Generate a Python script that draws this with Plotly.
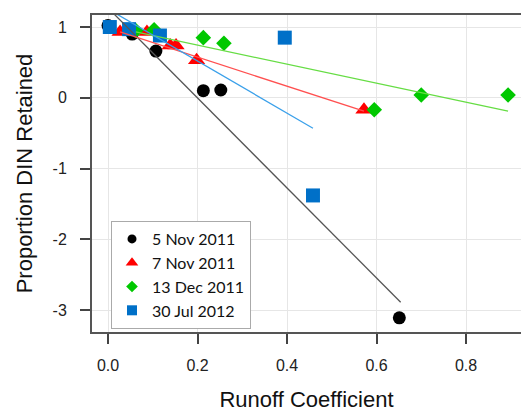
import plotly.graph_objects as go

# Data
nov5_x = [0.0, 0.054, 0.107, 0.213, 0.252, 0.651]
nov5_y = [1.02, 0.90, 0.66, 0.10, 0.11, -3.11]
nov7_x = [0.027, 0.087, 0.139, 0.152, 0.198, 0.572]
nov7_y = [0.93, 0.93, 0.74, 0.74, 0.53, -0.17]
dec13_x = [0.062, 0.103, 0.213, 0.259, 0.595, 0.700, 0.894]
dec13_y = [0.95, 0.96, 0.85, 0.77, -0.17, 0.04, 0.04]
jul30_x = [0.004, 0.047, 0.116, 0.395, 0.458]
jul30_y = [1.00, 0.97, 0.88, 0.85, -1.38]

# Fitted regression lines (endpoints)
fit_nov5_x = [0.0, 0.654]
fit_nov5_y = [1.27, -2.89]
fit_nov7_x = [0.027, 0.572]
fit_nov7_y = [0.93, -0.19]
fit_dec13_x = [0.062, 0.894]
fit_dec13_y = [0.93, -0.19]
fit_jul30_x = [0.004, 0.458]
fit_jul30_y = [1.24, -0.43]

x_ticks = [0, 0.2, 0.4, 0.6, 0.8]
x_labels = ["0.0", "0.2", "0.4", "0.6", "0.8"]
y_ticks = [1, 0, -1, -2, -3]
y_labels = ["1", "0", "-1", "-2", "-3"]

names = ["5 Nov 2011", "7 Nov 2011", "13 Dec 2011", "30 Jul 2012"]
colors = ["#000000", "#ff0000", "#00c800", "#0070c8"]
line_colors = ["#555555", "#ff5050", "#66dd44", "#3aa0ea"]
symbols = ["circle", "triangle-up", "diamond", "square"]
sizes = [13, 15, 12, 14]
legend_sizes = [9, 11, 9, 10]

xs = [nov5_x, nov7_x, dec13_x, jul30_x]
ys = [nov5_y, nov7_y, dec13_y, jul30_y]
fxs = [fit_nov5_x, fit_nov7_x, fit_dec13_x, fit_jul30_x]
fys = [fit_nov5_y, fit_nov7_y, fit_dec13_y, fit_jul30_y]

fig = go.Figure()
for i in range(4):
    fig.add_trace(go.Scatter(x=xs[i], y=ys[i], mode="markers", showlegend=False,
                             marker=dict(color=colors[i], symbol=symbols[i], size=sizes[i],
                                         line=dict(width=0))))
for i in range(4):
    fig.add_trace(go.Scatter(x=fxs[i], y=fys[i], mode="lines", showlegend=False,
                             line=dict(color=line_colors[i], width=1.3)))
for i in range(4):
    fig.add_trace(go.Scatter(x=[None], y=[None], mode="markers", name=names[i],
                             marker=dict(color=colors[i], symbol=symbols[i], size=legend_sizes[i],
                                         line=dict(width=0))))

L, R, T, B = 92, 0, 15, 80
pw = 521 - L - R
ph = 412 - T - B

fig.update_layout(
    width=521, height=412,
    margin=dict(l=L, r=R, t=T, b=B),
    paper_bgcolor="white", plot_bgcolor="white",
    font=dict(family="Liberation Sans, Arial, sans-serif", color="#222"),
    showlegend=True,
    legend=dict(x=(111 - L) / pw, y=(412 - B - 221) / ph, xanchor="left", yanchor="top",
                bgcolor="white", bordercolor="#aaaaaa", borderwidth=1,
                font=dict(family="Lato, sans-serif", size=16, color="#111"),
                tracegroupgap=0, itemwidth=30),
)

fig.update_xaxes(range=[-0.0358, 0.9229], tickvals=x_ticks, ticktext=x_labels,
                 showgrid=True, gridcolor="#e6e6e6", gridwidth=1, zeroline=False,
                 showline=True, linecolor="#555555", linewidth=2, mirror=True,
                 ticks="outside", ticklen=10, tickwidth=1.5, tickcolor="#444",
                 ticklabelstandoff=8,
                 tickfont=dict(size=16, color="#222"),
                 title=dict(text="Runoff Coefficient", font=dict(size=22, color="#111"), standoff=22))
fig.update_yaxes(range=[-3.31, 1.17], tickvals=y_ticks, ticktext=y_labels,
                 showgrid=True, gridcolor="#e6e6e6", gridwidth=1, zeroline=False,
                 showline=True, linecolor="#555555", linewidth=2,
                 ticks="outside", ticklen=10, tickwidth=1.5, tickcolor="#444",
                 ticklabelstandoff=10,
                 tickfont=dict(size=16, color="#222"),
                 title=dict(text="Proportion DIN Retained", font=dict(size=22, color="#111"), standoff=14))

fig.write_html("out.html")
